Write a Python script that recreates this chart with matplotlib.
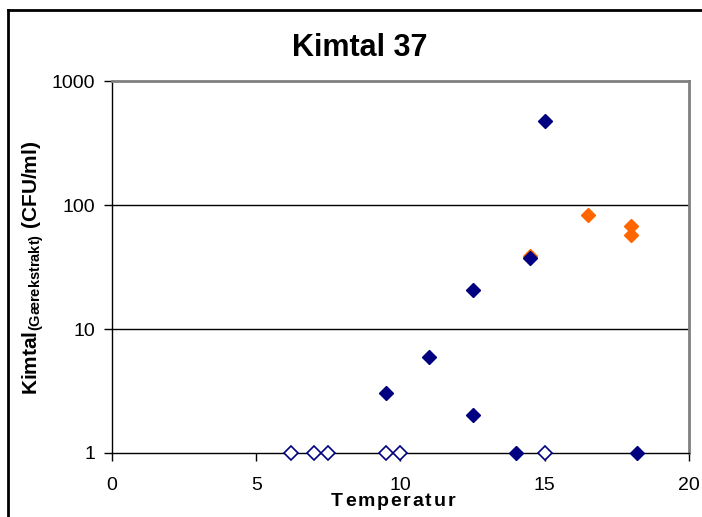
import numpy as np
import matplotlib
matplotlib.use('Agg')
import matplotlib.pyplot as plt
from matplotlib.ticker import FixedLocator, NullLocator

plt.rcParams['font.family'] = ['Liberation Sans', 'DejaVu Sans']
plt.rcParams['mathtext.fontset'] = 'custom'
plt.rcParams['mathtext.rm'] = 'Liberation Sans:bold'
plt.rcParams['mathtext.bf'] = 'Liberation Sans:bold'

# data
temp_filled = [15.0, 14.5, 12.5, 11.0, 9.5, 12.5, 14.0, 18.2]
kim_filled = [475, 37.5, 20.8, 5.9, 3.05, 2.02, 1.0, 1.0]

temp_orange = [14.5, 16.5, 18.0, 18.0]
kim_orange = [38.5, 83, 68, 57]

temp_open = [6.2, 7.0, 7.5, 9.5, 10.0, 15.0]
kim_open = [1, 1, 1, 1, 1, 1]

xticks = [0, 5, 10, 15, 20]
yticks = [1, 10, 100, 1000]

navy = '#000080'
orange = '#FF6600'

fig = plt.figure(figsize=(7.02, 5.17), dpi=100)
ax = fig.add_axes([0.1595, 0.1238, 0.822, 0.7195])

ax.plot(temp_orange, kim_orange, 'D', color=orange, markersize=7, zorder=3)
ax.plot(temp_filled, kim_filled, 'D', color=navy, markersize=7, zorder=4, clip_on=False)
ax.plot(temp_open, kim_open, 'D', markerfacecolor='white', markeredgecolor=navy,
        markeredgewidth=1.2, markersize=7, zorder=4, clip_on=False)

ax.set_yscale('log')
ax.set_xlim(0, 20)
ax.set_ylim(1, 1000)
ax.xaxis.set_major_locator(FixedLocator(xticks))
ax.yaxis.set_major_locator(FixedLocator(yticks))
ax.yaxis.set_minor_locator(NullLocator())
ax.set_xticklabels([str(t) for t in xticks])
ax.set_yticklabels([str(t) for t in yticks])
ax.tick_params(axis='both', labelsize=14, direction='out', length=6, width=1, color='black')
ax.tick_params(axis='x', pad=11)
ax.tick_params(axis='y', pad=6)

for v in [10, 100]:
    ax.axhline(v, color='black', lw=1, zorder=1)

ax.spines['left'].set_color('black')
ax.spines['bottom'].set_color('black')
ax.spines['top'].set_color('#808080')
ax.spines['right'].set_color('#808080')
ax.spines['top'].set_linewidth(2)
ax.spines['right'].set_linewidth(2)
for s in ['left', 'bottom']:
    ax.spines[s].set_linewidth(1)

fig.text(0.513, 0.907, 'Kimtal 37', fontsize=22, fontweight='bold', ha='center', va='center')
fig.text(0.047, 0.4826, r'Kimtal$_{\mathrm{(Gærekstrakt)}}$ (CFU/ml)', fontsize=15, fontweight='bold',
         rotation=90, ha='center', va='center')

# x label with letter spacing, placed letter by letter
renderer = fig.canvas.get_renderer()
word = 'Temperatur'
gap = 1.8
widths = []
for ch in word:
    t = fig.text(0, 0, ch, fontsize=14, fontweight='bold')
    widths.append(t.get_window_extent(renderer).width)
    t.remove()
total = sum(widths) + gap * (len(word) - 1)
xpix = 393 - total / 2
for ch, w in zip(word, widths):
    fig.text(xpix / 702, 1 - 502 / 517, ch, fontsize=14, fontweight='bold', ha='left', va='center')
    xpix += w + gap

# outer frame (top and left edges)
fig.add_artist(plt.Line2D([0.0114, 0.0114], [0, 0.981], color='black', lw=2, transform=fig.transFigure))
fig.add_artist(plt.Line2D([0.0114, 1.0], [0.981, 0.981], color='black', lw=2, transform=fig.transFigure))

fig.savefig('out.png', dpi=100)
